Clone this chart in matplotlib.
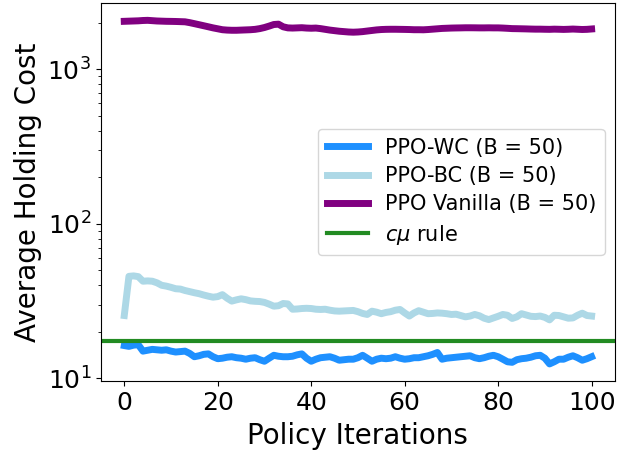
import numpy as np
import matplotlib
matplotlib.use('Agg')
import matplotlib.pyplot as plt

# ── Data ──
wc_cost = [16.3, 16.1, 16.4, 16.5, 15.0, 15.2, 15.4, 15.3, 15.2, 15.3,
           15.0, 14.8, 14.9, 15.0, 14.5, 13.8, 14.0, 14.3, 14.4, 13.8,
           13.4, 13.5, 13.7, 13.8, 13.6, 13.5, 13.3, 13.5, 13.6, 13.2,
           12.9, 13.5, 14.1, 13.9, 13.8, 13.8, 13.9, 14.2, 14.4, 13.5,
           12.9, 13.3, 13.6, 13.7, 13.8, 13.5, 13.1, 13.2, 13.3, 13.3,
           13.6, 14.1, 13.5, 12.9, 13.3, 13.5, 13.4, 13.5, 13.8, 13.5,
           13.3, 13.4, 13.6, 13.6, 13.8, 14.0, 14.3, 14.7, 13.3, 13.5,
           13.6, 13.7, 13.8, 13.9, 14.0, 13.6, 13.4, 13.6, 13.9, 14.1,
           13.8, 13.3, 12.8, 12.7, 13.2, 13.4, 13.5, 13.7, 14.0, 14.1,
           13.5, 12.4, 12.8, 13.3, 13.3, 13.7, 14.0, 13.6, 13.1, 13.4,
           13.8]
bc_cost = [25.5, 45.7, 46.0, 45.5, 42.5, 42.7, 42.5, 41.5, 40.0, 39.5,
           38.8, 38.0, 37.8, 37.0, 36.4, 35.8, 35.3, 34.6, 34.0, 33.5,
           33.8, 34.8, 33.0, 31.6, 32.2, 32.7, 32.3, 31.7, 31.5, 31.4,
           31.0, 30.2, 29.3, 29.5, 30.5, 30.3, 28.0, 28.1, 28.3, 28.4,
           28.3, 28.0, 27.9, 28.0, 27.6, 27.3, 27.2, 27.3, 27.4, 27.5,
           27.0, 26.3, 25.9, 27.2, 26.8, 26.2, 26.7, 27.0, 27.6, 27.9,
           26.5, 25.3, 26.5, 27.4, 26.8, 26.2, 26.3, 26.5, 26.4, 26.2,
           25.9, 26.0, 25.5, 25.0, 25.3, 25.9, 25.4, 24.5, 24.0, 24.6,
           25.2, 25.9, 25.6, 24.4, 25.0, 26.2, 25.7, 25.2, 25.1, 25.3,
           24.8, 23.9, 25.6, 25.5, 25.0, 24.5, 24.6, 25.6, 26.4, 25.5,
           25.3]
vanilla_cost = [2040, 2045, 2050, 2055, 2065, 2070, 2060, 2050, 2045, 2040,
                2038, 2035, 2030, 2025, 2000, 1970, 1940, 1910, 1880, 1850,
                1825, 1800, 1790, 1785, 1785, 1790, 1795, 1800, 1810, 1830,
                1860, 1900, 1945, 1955, 1880, 1850, 1845, 1850, 1855, 1845,
                1840, 1845, 1830, 1810, 1790, 1775, 1760, 1750, 1740, 1735,
                1740, 1750, 1765, 1780, 1795, 1805, 1810, 1812, 1812, 1810,
                1808, 1805, 1800, 1800, 1798, 1805, 1815, 1825, 1835, 1840,
                1845, 1848, 1850, 1853, 1853, 1852, 1850, 1850, 1852, 1850,
                1850, 1845, 1838, 1830, 1828, 1825, 1822, 1818, 1815, 1815,
                1812, 1810, 1815, 1812, 1808, 1812, 1818, 1812, 1806, 1810,
                1820]
cmu_cost = 17.5

iters = np.arange(len(wc_cost))

fig, ax = plt.subplots(figsize=(6.19, 4.51), dpi=100)
fig.subplots_adjust(left=0.163, right=0.9935, bottom=0.155, top=0.993)

ax.plot(iters, wc_cost, color='dodgerblue', lw=5, label='PPO-WC (B = 50)')
ax.plot(iters, bc_cost, color='lightblue', lw=5, label='PPO-BC (B = 50)')
ax.plot(iters, vanilla_cost, color='purple', lw=5, label='PPO Vanilla (B = 50)')
ax.axhline(cmu_cost, color='forestgreen', lw=3, label=r'$c\mu$ rule')

ax.set_yscale('log')
ax.set_xticks([0, 20, 40, 60, 80, 100])
ax.tick_params(labelsize=18)
ax.set_xlabel('Policy Iterations', fontsize=20, labelpad=5)
ax.set_ylabel('Average Holding Cost', fontsize=20, labelpad=4)
ax.legend(loc='center right', fontsize=15, labelspacing=0.4)

plt.savefig('out.png', dpi=100)
plt.close()
